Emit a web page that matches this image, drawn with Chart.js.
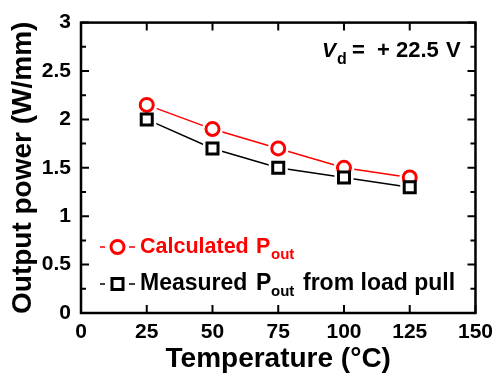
<!DOCTYPE html>
<html>
<head>
<meta charset="utf-8">
<script src="https://cdn.jsdelivr.net/npm/chart.js@4.4.1/dist/chart.umd.min.js"></script>
<style>
  html, body { margin: 0; padding: 0; background: #fff; }
  canvas { display: block; }
</style>
</head>
<body>
<canvas id="c" width="500" height="379"></canvas>
<script>
// ---- data ----
const temperatures = [25, 50, 75, 100, 125];            // °C
const calculatedPout = [2.15, 1.9, 1.7, 1.5, 1.4];      // W/mm
const measuredPout = [2.0, 1.7, 1.5, 1.4, 1.3];         // W/mm
const xTickValues = [0, 25, 50, 75, 100, 125, 150];
const yTickValues = [0, 0.5, 1, 1.5, 2, 2.5, 3];
const xTitle = 'Temperature (°C)';
const yTitle = 'Output power (W/mm)';

const FONT = '"Liberation Sans", Arial, sans-serif';
const RED = '#ff0000';
const BLACK = '#000000';

const pts = (ys) => temperatures.map((t, i) => ({ x: t, y: ys[i] }));

const lineDs = (ys, color, order) => ({
  data: pts(ys), showLine: true, borderColor: color, borderWidth: 1.5,
  pointRadius: 0, pointHoverRadius: 0, order, fill: false
});
const haloDs = (ys, style, r, order) => ({
  data: pts(ys), showLine: false, pointStyle: style, pointRadius: r, pointHoverRadius: r,
  pointBackgroundColor: '#fff', pointBorderColor: '#fff', pointBorderWidth: 0, order
});
const markDs = (ys, color, style, r, order) => ({
  data: pts(ys), showLine: false, pointStyle: style, pointRadius: r, pointHoverRadius: r,
  pointBackgroundColor: '#fff', pointBorderColor: color, pointBorderWidth: 3, order
});

const decor = {
  id: 'decor',
  afterDraw(chart) {
    const { ctx, chartArea: a, scales } = chart;
    const xs = scales.x, ys = scales.y;
    ctx.save();
    // inward ticks
    ctx.strokeStyle = BLACK;
    ctx.lineWidth = 2;
    ctx.beginPath();
    xTickValues.forEach(v => {
      const px = xs.getPixelForValue(v);
      ctx.moveTo(px, a.bottom); ctx.lineTo(px, a.bottom - 8);
      ctx.moveTo(px, a.top); ctx.lineTo(px, a.top + 8);
    });
    yTickValues.forEach((v, i) => {
      const py = ys.getPixelForValue(v);
      ctx.moveTo(a.left, py); ctx.lineTo(a.left + 8, py);
      ctx.moveTo(a.right, py); ctx.lineTo(a.right - 8, py);
      if (i < yTickValues.length - 1) {
        const pm = ys.getPixelForValue((v + yTickValues[i + 1]) / 2);
        ctx.moveTo(a.left, pm); ctx.lineTo(a.left + 5, pm);
        ctx.moveTo(a.right, pm); ctx.lineTo(a.right - 5, pm);
      }
    });
    ctx.stroke();
    // frame
    ctx.lineWidth = 2.5;
    ctx.strokeRect(a.left, a.top, a.right - a.left, a.bottom - a.top);

    // text helper
    const run = (text, x, y, size, color, italic) => {
      ctx.font = (italic ? 'italic ' : '') + 'bold ' + size + 'px ' + FONT;
      ctx.fillStyle = color;
      ctx.textAlign = 'left';
      ctx.textBaseline = 'alphabetic';
      ctx.fillText(text, x, y);
    };

    // annotation V_d = + 22.5 V
    run('V', 322, 57, 21, BLACK, true);
    run('d', 337, 64, 16, BLACK, false);
    run('=', 352, 57, 22, BLACK, false);
    run('+', 377, 57, 22, BLACK, false);
    run('22.5', 396, 57, 22, BLACK, false);
    run('V', 446, 57, 22, BLACK, false);

    // legend
    const legendRow = (color, style, cy, name, size, pX, extra) => {
      ctx.strokeStyle = color;
      ctx.lineWidth = 1.5;
      ctx.beginPath();
      ctx.moveTo(100, cy); ctx.lineTo(105, cy);
      ctx.moveTo(129, cy); ctx.lineTo(135, cy);
      ctx.stroke();
      ctx.lineWidth = 3;
      ctx.fillStyle = '#fff';
      ctx.beginPath();
      if (style === 'circle') ctx.arc(117.5, cy, 6.5, 0, Math.PI * 2);
      else ctx.rect(117.5 - 5.5, cy - 5.5, 11, 11);
      ctx.fill(); ctx.stroke();
      run(name, 140, cy + 6, size, color, false);
      run('P', pX, cy + 6, size, color, false);
      run('out', pX + 15, cy + 12, 15, color, false);
      if (extra) run(extra, 303, cy + 6, size, color, false);
    };
    legendRow(RED, 'circle', 247, 'Calculated', 21.5, 256, null);
    legendRow(BLACK, 'rect', 284, 'Measured', 23, 256, 'from load pull');
    ctx.restore();
  }
};

new Chart(document.getElementById('c'), {
  type: 'scatter',
  data: {
    datasets: [
      lineDs(calculatedPout, RED, 6),
      lineDs(measuredPout, BLACK, 5),
      haloDs(calculatedPout, 'circle', 10.5, 4),
      haloDs(measuredPout, 'rect', 13.5, 3),
      markDs(calculatedPout, RED, 'circle', 6.5, 2),
      markDs(measuredPout, BLACK, 'rect', 7.8, 1)
    ]
  },
  options: {
    responsive: false,
    devicePixelRatio: 1,
    animation: false,
    events: [],
    layout: { padding: { left: 0, right: 18, top: 17, bottom: 0 } },
    plugins: { legend: { display: false }, tooltip: { enabled: false } },
    scales: {
      x: {
        type: 'linear', min: 0, max: 150,
        afterBuildTicks: s => { s.ticks = xTickValues.map(v => ({ value: v })); },
        afterFit: s => { s.height = 66; },
        grid: { display: false, drawTicks: false },
        border: { display: false },
        ticks: {
          padding: 7, color: BLACK, maxRotation: 0, autoSkip: false,
          font: { family: FONT, size: 21, weight: 'bold' },
          callback: v => String(v)
        },
        title: {
          display: true, text: xTitle, color: BLACK,
          font: { family: FONT, size: 28, weight: 'bold' },
          padding: { top: 0, bottom: 3 }
        }
      },
      y: {
        type: 'linear', min: 0, max: 3,
        afterBuildTicks: s => { s.ticks = yTickValues.map(v => ({ value: v })); },
        afterFit: s => { s.width = 81; },
        grid: { display: false, drawTicks: false },
        border: { display: false },
        ticks: {
          padding: 10, color: BLACK, autoSkip: false,
          font: { family: FONT, size: 21, weight: 'bold' },
          callback: v => String(v)
        },
        title: {
          display: true, text: yTitle, color: BLACK,
          font: { family: FONT, size: 28, weight: 'bold' },
          padding: { top: 6, bottom: 0 }
        }
      }
    }
  },
  plugins: [decor]
});
</script>
</body>
</html>
